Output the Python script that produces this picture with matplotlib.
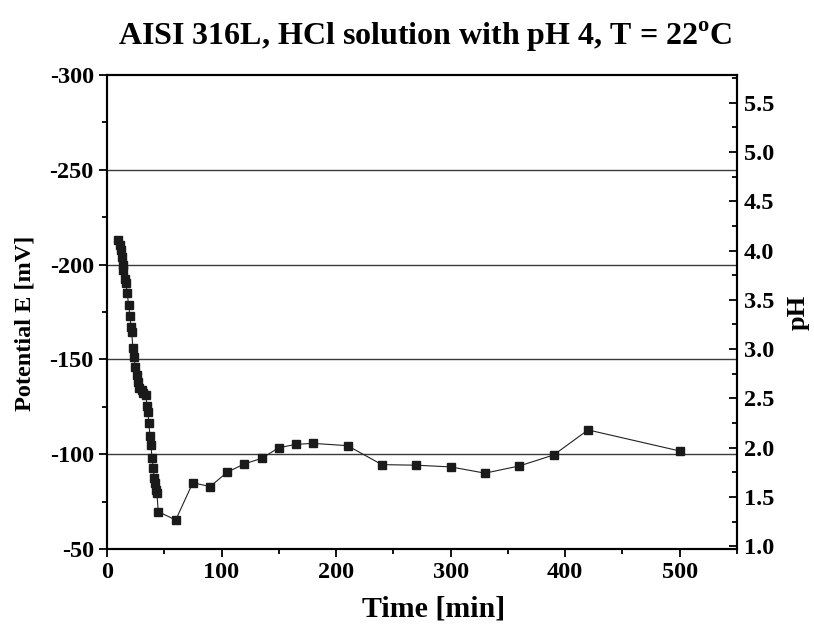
import numpy as np
import matplotlib
matplotlib.use('Agg')
import matplotlib.pyplot as plt
import matplotlib.ticker as plticker
from matplotlib import rcParams

rcParams['font.family'] = 'Liberation Serif'
rcParams['font.weight'] = 'bold'
rcParams['axes.unicode_minus'] = False
rcParams['mathtext.fontset'] = 'custom'
rcParams['mathtext.rm'] = 'Liberation Serif:bold'
rcParams['mathtext.bf'] = 'Liberation Serif:bold'

# time [min] and potential E [mV]
time = [9.9, 11.3, 12.2, 13.1, 13.7, 14.3, 15.7, 16.6, 17.7, 18.9, 20.1, 20.9,
        21.5, 22.7, 23.6, 24.7, 25.9, 26.8, 28.2, 30.5, 31.7, 33.7, 35.2, 35.8,
        36.6, 37.5, 38.4, 39.3, 40.4, 41.3, 42.2, 42.8, 43.6, 44.8, 60,
        75, 90, 105, 120, 135, 150, 165, 180, 210, 240, 270, 300, 330, 360,
        390, 420, 500]
potential = [-213, -210.3, -207.7, -204.2, -199.8, -197.2, -192.2, -190.1,
             -184.9, -178.7, -172.9, -167.3, -164.6, -155.9, -151.4, -146.2,
             -141.8, -138.2, -134.8, -133.9, -132.1, -131.2, -125.4, -122.4,
             -116.3, -109.6, -104.9, -98.2, -92.6, -87.3, -84.6, -81.1, -79.3,
             -69.7, -65.3,
             -85.0, -82.9, -90.5, -94.9, -97.8, -103.4, -105.2, -105.7, -104.5,
             -94.5, -94.2, -93.3, -90.0, -93.8, -99.6, -112.8, -101.7]

fig = plt.figure(figsize=(8.14, 6.26), dpi=100)
ax = fig.add_axes([0.1314, 0.1230, 0.7740, 0.7572])

for level in [-250, -200, -150, -100]:
    ax.axhline(level, color='#3a3a3a', linewidth=1.0, zorder=1)

ax.plot(time, potential, color='#222222', linewidth=0.8, marker='s',
        markersize=5.8, markerfacecolor='#1a1a1a', markeredgecolor='#1a1a1a', zorder=3)

ax.set_xlim(0, 550)
ax.set_ylim(-50, -300)
ax.xaxis.set_major_locator(plticker.MultipleLocator(100))
ax.xaxis.set_minor_locator(plticker.MultipleLocator(50))
ax.yaxis.set_major_locator(plticker.MultipleLocator(50))
ax.yaxis.set_minor_locator(plticker.MultipleLocator(25))
ax.tick_params(which='both', direction='out', labelsize=17.5, width=1.3)
ax.tick_params(which='major', length=6)
ax.tick_params(which='minor', length=3.5)
for sp in ax.spines.values():
    sp.set_linewidth(1.5)
ax.set_xticks(np.arange(0, 501, 100))
ax.set_xlabel('Time [min]', fontsize=21.5, fontweight='bold', labelpad=9)
ax.xaxis.label.set_x(0.518)
ax.set_ylabel('Potential E [mV]', fontsize=17.5, fontweight='bold', labelpad=10)
ax.yaxis.label.set_y(0.475)

ax2 = ax.twinx()
ax2.set_ylim(0.973, 5.78)
ax2.yaxis.set_major_locator(plticker.MultipleLocator(0.5))
ax2.yaxis.set_minor_locator(plticker.MultipleLocator(0.25))
ax2.yaxis.set_major_formatter(plticker.FormatStrFormatter('%.1f'))
ax2.tick_params(which='both', direction='in', labelsize=17.5, width=1.3, pad=5)
ax2.tick_params(which='major', length=6)
ax2.tick_params(which='minor', length=3.5)
ax2.set_ylabel('pH', fontsize=19, fontweight='bold', labelpad=9)
for sp in ax2.spines.values():
    sp.set_linewidth(1.5)

fig.suptitle(r'AISI 316L, HCl solution with pH 4, T = 22$^{\mathbf{o}}$C',
             x=0.522, y=0.968, fontsize=23, fontweight='bold')

plt.savefig('out.png', dpi=100)
